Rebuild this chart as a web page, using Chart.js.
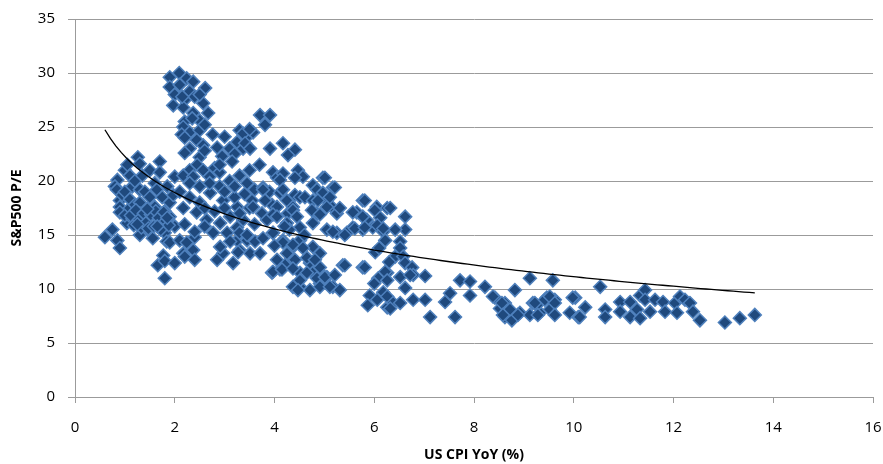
<!DOCTYPE html>
<html>
<head>
<meta charset="utf-8">
<script src="https://cdn.jsdelivr.net/npm/chart.js@4/dist/chart.umd.min.js"></script>
<style>
html,body{margin:0;padding:0;background:#fff;}
canvas{display:block;}
</style>
</head>
<body>
<canvas id="c" width="883" height="464"></canvas>
<script>
// US CPI YoY (%) -- x values
const cpiYoY = [
0.6,0.75,0.85,0.9,0.85,0.8,0.84,0.9,0.9,0.9,0.95,1.0,1.0,1.05,1.1,1.04,1.0,1.1,1.1,1.15,1.2,1.2,1.15,
1.26,1.3,1.3,1.3,1.3,1.3,1.35,1.4,1.4,1.45,1.5,1.5,1.54,1.56,1.6,1.6,1.64,1.66,1.7,1.7,1.7,1.75,1.8,1.8,1.84,1.85,1.9,1.9,1.9,1.97,2.0,2.0,
1.12,1.18,1.22,1.28,1.33,1.38,1.42,1.47,1.52,1.58,1.62,1.68,1.72,1.78,1.82,1.88,1.25,1.45,1.65,1.85,
1.66,1.77,1.8,1.8,2.0,2.17,2.2,2.37,2.4,2.1,2.24,2.4,2.4,
1.9,2.09,2.24,2.37,2.61,1.9,2.1,2.3,2.0,2.2,1.97,2.57,2.17,2.37,2.67,2.2,2.5,2.17,2.3,2.14,2.5,2.44,2.3,2.57,2.5,2.2,2.4,2.6,2.45,2.3,2.6,2.2,2.35,2.15,2.5,
2.76,3.0,3.3,3.45,3.25,2.85,3.1,3.37,3.37,3.57,3.41,3.51,3.2,2.95,3.5,
2.17,2.37,2.57,2.7,2.17,2.3,2.44,2.64,2.71,2.91,2.97,3.11,3.25,3.37,3.25,2.1,2.2,2.3,2.5,2.5,2.6,2.6,2.7,2.8,2.8,2.9,2.9,3.0,3.0,3.05,3.1,3.2,3.2,3.3,3.3,3.4,3.45,3.5,3.55,3.57,3.6,3.6,3.75,3.77,3.85,3.9,3.95,2.77,2.9,3.5,3.7,3.15,
2.85,2.97,3.17,3.3,3.51,3.71,3.25,3.45,2.91,3.27,3.11,3.3,3.45,3.61,3.77,3.97,
3.71,3.91,3.81,3.91,4.17,4.41,4.27,3.97,4.05,4.17,4.47,4.57,4.11,4.41,3.77,3.81,4.11,4.25,4.17,4.41,4.51,4.61,4.05,4.27,3.97,4.37,4.05,4.37,4.45,4.25,4.51,
4.97,5.17,4.77,4.85,4.97,5.05,4.77,4.87,5.15,4.85,5.25,5.31,4.75,4.91,5.05,5.77,6.05,5.65,5.57,5.85,5.57,5.77,5.97,5.81,6.01,6.26,5.77,6.12,4.77,5.05,5.25,5.45,5.17,5.41,5.61,5.81,6.06,6.18,5.01,5.21,5.11,
3.95,4.11,4.25,4.37,4.51,4.71,4.51,4.71,4.91,5.05,5.17,5.31,4.77,4.91,4.37,4.17,4.51,4.77,4.91,5.37,5.77,3.97,4.05,4.17,4.37,4.57,4.25,4.41,4.65,4.81,3.97,4.15,4.37,4.51,4.65,4.85,4.91,5.01,5.21,5.11,4.37,4.47,5.41,5.81,4.6,4.3,4.0,4.2,
6.02,6.08,6.26,5.91,5.87,6.06,6.26,6.18,6.32,6.62,6.62,6.42,6.18,6.52,6.22,6.52,6.42,6.58,6.62,6.76,6.78,7.02,6.52,6.72,6.22,6.26,6.62,6.26,6.38,6.52,6.32,6.78,7.02,7.12,6.1,6.3,6.0,
7.42,7.52,7.72,7.92,7.92,7.62,8.22,8.42,8.62,8.82,8.52,8.62,8.76,8.92,9.12,9.18,9.12,9.58,8.38,8.56,8.72,8.58,8.88,9.32,9.46,9.26,9.62,9.52,9.92,10.03,10.09,9.22,9.42,9.52,9.62,9.28,9.62,9.98,10.12,10.23,
10.53,10.63,10.63,10.93,10.93,11.13,11.13,11.27,11.33,11.33,11.43,11.43,11.53,11.63,11.79,11.83,12.03,12.07,12.13,12.23,12.33,12.39,12.53,13.03,13.33,13.63
];
// S&P500 P/E -- y values
const spxPE = [
14.8,15.5,14.5,13.8,20.1,19.5,19.2,18.2,17.6,17.1,18.7,19.0,21.0,21.5,20.5,16.1,16.8,17.5,18.3,19.5,20.0,17.8,16.5,
22.2,21.6,19.2,18.0,17.0,15.0,20.5,19.0,16.2,15.5,21.0,18.5,17.1,14.7,19.8,17.6,19.2,16.0,21.8,20.8,16.2,18.5,15.2,17.2,14.4,19.5,16.7,18.0,14.3,18.7,20.4,15.8,
16.8,15.9,17.3,16.4,15.7,17.0,16.1,15.6,16.9,15.8,17.2,16.6,15.5,17.1,16.3,15.9,16.0,17.4,15.8,16.6,
12.2,13.1,12.6,11.0,12.4,13.3,13.0,13.6,12.7,14.5,14.3,14.8,15.3,
29.6,30.0,29.5,29.2,28.6,28.7,28.9,28.3,28.0,27.5,27.0,27.2,26.8,26.3,26.3,25.5,25.6,25.0,24.5,24.3,24.7,23.8,23.0,23.3,22.2,24.0,27.8,25.2,21.5,21.0,22.8,22.6,25.8,27.8,28.0,
24.3,24.1,24.7,24.1,23.6,23.1,23.0,23.0,24.4,24.5,23.5,23.0,22.5,22.3,24.8,
20.5,20.4,21.0,20.4,17.5,18.5,17.1,16.4,18.9,16.1,18.2,16.7,15.7,16.4,17.6,19.0,16.0,19.8,19.5,18.0,17.5,15.8,19.8,21.2,17.2,19.5,20.8,17.5,19.0,15.2,20.0,18.5,19.5,20.5,17.0,18.8,19.8,17.5,18.2,17.6,16.0,19.2,17.0,19.4,16.4,19.0,17.8,15.2,21.5,21.0,21.5,21.8,
12.7,13.3,12.4,13.6,13.3,13.3,14.5,14.5,13.9,13.4,14.4,15.2,15.0,14.4,14.7,15.2,
26.1,26.1,25.2,23.0,23.5,22.9,22.4,20.8,20.3,20.7,21.0,20.4,20.1,20.3,19.2,18.2,18.9,18.2,19.2,18.7,18.5,18.5,17.6,17.0,16.9,17.6,16.7,17.3,16.7,16.1,15.7,
20.3,19.4,19.6,19.2,18.9,18.2,18.2,18.2,17.6,17.0,17.0,17.5,17.3,16.9,17.6,18.2,17.6,17.1,17.1,16.4,15.7,15.5,15.7,18.2,17.3,17.5,16.7,16.6,16.1,15.5,15.2,15.2,15.3,15.0,15.6,15.7,15.9,15.3,20.3,19.4,18.5,
11.5,11.8,12.4,12.7,11.5,12.4,10.2,9.9,10.5,11.1,10.2,9.9,11.5,12.0,13.9,14.5,14.5,13.9,13.3,12.2,12.0,15.2,12.7,14.3,14.1,13.8,13.3,12.7,12.9,12.7,11.6,11.8,11.9,10.8,11.5,11.0,10.2,11.1,11.3,10.2,10.2,9.9,12.2,12.0,15.0,15.5,14.0,15.8,
13.4,11.0,11.5,9.4,8.5,9.0,8.3,9.7,17.5,16.7,15.5,15.5,15.6,14.4,14.5,13.8,13.0,13.0,12.4,12.0,11.3,11.2,11.1,11.3,11.6,10.8,10.1,9.3,8.7,8.7,8.2,9.0,9.0,7.4,13.8,12.5,10.5,
8.8,9.6,10.8,10.7,9.4,7.4,10.2,9.2,8.7,9.9,8.2,7.4,7.1,7.8,7.6,8.7,11.0,10.8,9.3,8.7,8.1,7.6,7.6,7.8,9.2,8.5,9.0,8.1,7.8,9.2,7.4,8.7,9.0,9.3,8.7,7.6,7.6,9.2,7.4,8.3,
10.2,8.1,7.4,8.8,7.9,8.8,7.4,8.1,7.3,9.4,9.9,9.0,7.9,9.0,8.8,7.9,8.7,7.8,9.3,9.0,8.7,7.9,7.1,6.9,7.3,7.6
];
const xTicks = [0,2,4,6,8,10,12,14,16];
const yTicks = [0,5,10,15,20,25,30,35];

const points = cpiYoY.map((x, i) => ({x: x, y: spxPE[i]}));

// Logarithmic trendline (least squares of P/E on ln(CPI)), as in the source chart
let n = cpiYoY.length, sx = 0, sy = 0, sxx = 0, sxy = 0;
for (let i = 0; i < n; i++) {
  const lx = Math.log(cpiYoY[i]);
  sx += lx; sy += spxPE[i]; sxx += lx * lx; sxy += lx * spxPE[i];
}
const slope = (n * sxy - sx * sy) / (n * sxx - sx * sx);
const icpt = (sy - slope * sx) / n;
const xMin = Math.min(...cpiYoY), xMax = Math.max(...cpiYoY);
const trend = [];
for (let k = 0; k <= 120; k++) {
  const x = xMin + (xMax - xMin) * k / 120;
  trend.push({x: x, y: icpt + slope * Math.log(x)});
}

const gridCol = '#9b9b9b';
const tickFont = {family: 'Open Sans', size: 15};
new Chart(document.getElementById('c'), {
  type: 'scatter',
  data: {
    datasets: [
      {
        label: 'S&P500 P/E',
        data: points,
        pointStyle: 'rectRot',
        pointRadius: 6.5,
        pointBorderWidth: 1.5,
        backgroundColor: '#1F497D',
        borderColor: '#4F81BD',
        order: 2
      },
      {
        type: 'line',
        label: 'Trend',
        data: trend,
        showLine: true,
        pointRadius: 0,
        borderColor: '#000000',
        borderWidth: 1.3,
        fill: false,
        order: 1
      }
    ]
  },
  options: {
    responsive: false,
    animation: false,
    devicePixelRatio: 1,
    layout: {padding: {left: 0, right: 10, top: 19, bottom: 0}},
    plugins: {legend: {display: false}, tooltip: {enabled: false}},
    scales: {
      x: {
        type: 'linear',
        min: 0, max: 16,
        afterBuildTicks: s => { s.ticks = xTicks.map(v => ({value: v})); },
        ticks: {font: tickFont, color: '#000', padding: 16, maxRotation: 0},
        grid: {display: true, drawOnChartArea: false, drawTicks: true, tickLength: 6, color: gridCol},
        border: {display: true, color: gridCol},
        title: {display: true, text: 'US CPI YoY (%)', color: '#000',
          font: {family: 'Open Sans', size: 14, weight: 'bold'}, padding: {top: 0, bottom: 1}},
        afterFit: s => { s.height = 67; s.paddingLeft = 0; s.paddingRight = 0; }
      },
      y: {
        type: 'linear',
        min: 0, max: 35,
        afterBuildTicks: s => { s.ticks = yTicks.map(v => ({value: v})); },
        ticks: {font: tickFont, color: '#000', padding: 13},
        grid: {display: true, drawOnChartArea: true, drawTicks: true, tickLength: 7, color: gridCol},
        border: {display: true, color: gridCol},
        title: {display: true, text: 'S&P500 P/E', color: '#000',
          font: {family: 'Open Sans', size: 14, weight: 'bold'}, padding: {top: 9, bottom: 0}},
        afterFit: s => { s.width = 75; s.paddingTop = 0; s.paddingBottom = 0; }
      }
    }
  }
});
</script>
</body>
</html>
